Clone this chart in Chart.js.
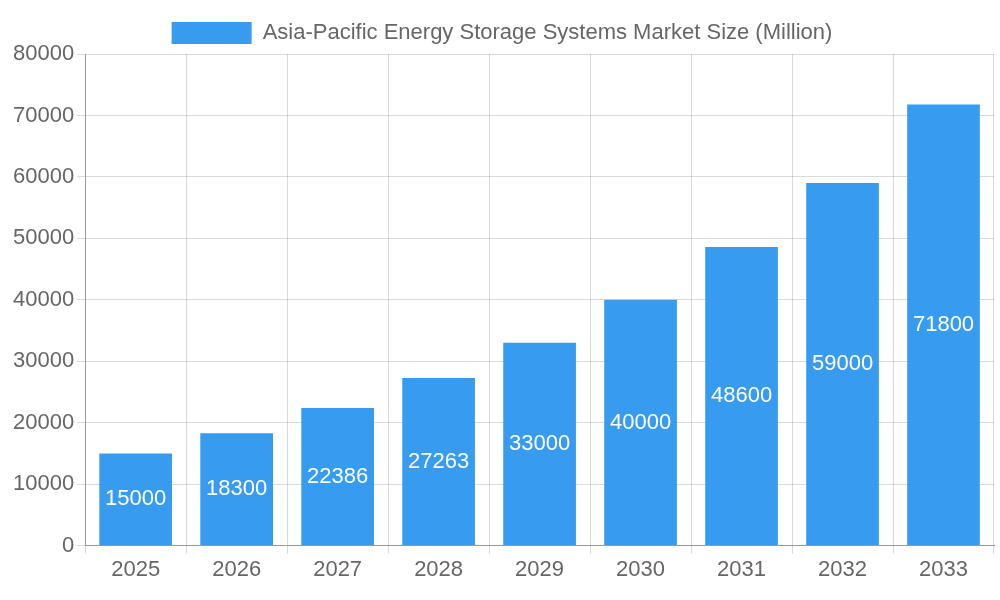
<!DOCTYPE html>
<html>
<head>
<meta charset="utf-8">
<script src="https://cdn.jsdelivr.net/npm/chart.js@4"></script>
<style>
  body { margin: 0; background: #fff; }
  #wrap { width: 1000px; height: 600px; }
</style>
</head>
<body>
<div id="wrap"><canvas id="chart"></canvas></div>
<script>
const years = ['2025', '2026', '2027', '2028', '2029', '2030', '2031', '2032', '2033'];
const marketSize = [15000, 18300, 22386, 27263, 33000, 40000, 48600, 59000, 71800];
const yTicks = [0, 10000, 20000, 30000, 40000, 50000, 60000, 70000, 80000];

// Draw value labels in the middle of each bar
const barLabels = {
    id: 'barLabels',
    afterDatasetsDraw(chart) {
        const ctx = chart.ctx;
        const meta = chart.getDatasetMeta(0);
        ctx.save();
        ctx.fillStyle = '#ffffff';
        ctx.font = '22px "Liberation Sans", Arial, sans-serif';
        ctx.textAlign = 'center';
        ctx.textBaseline = 'middle';
        meta.data.forEach((bar, i) => {
            const mid = (bar.y + bar.base) / 2;
            ctx.fillText(marketSize[i], bar.x, mid);
        });
        ctx.restore();
    }
};

Chart.defaults.font.family = '"Liberation Sans", Arial, sans-serif';
Chart.defaults.color = '#666';

new Chart(document.getElementById('chart'), {
    type: 'bar',
    data: {
        labels: years,
        datasets: [{
            label: 'Asia-Pacific Energy Storage Systems Market Size (Million)',
            data: marketSize,
            backgroundColor: '#379cf0'
        }]
    },
    options: {
        responsive: true,
        maintainAspectRatio: false,
        animation: false,
        layout: { padding: { top: 10, bottom: 14, left: 10, right: 6 } },
        plugins: {
            legend: {
                labels: { font: { size: 22 }, boxWidth: 80, boxHeight: 22, padding: 12 }
            },
            tooltip: { enabled: false }
        },
        scales: {
            x: {
                grid: { color: 'rgba(0,0,0,0.15)' },
                border: { color: '#999' },
                ticks: { font: { size: 22 } }
            },
            y: {
                min: 0,
                max: 80000,
                afterBuildTicks(axis) {
                    axis.ticks = yTicks.map(v => ({ value: v }));
                },
                grid: { color: 'rgba(0,0,0,0.15)' },
                border: { color: '#999' },
                ticks: { font: { size: 22 }, callback: v => String(v) }
            }
        }
    },
    plugins: [barLabels]
});
</script>
</body>
</html>
